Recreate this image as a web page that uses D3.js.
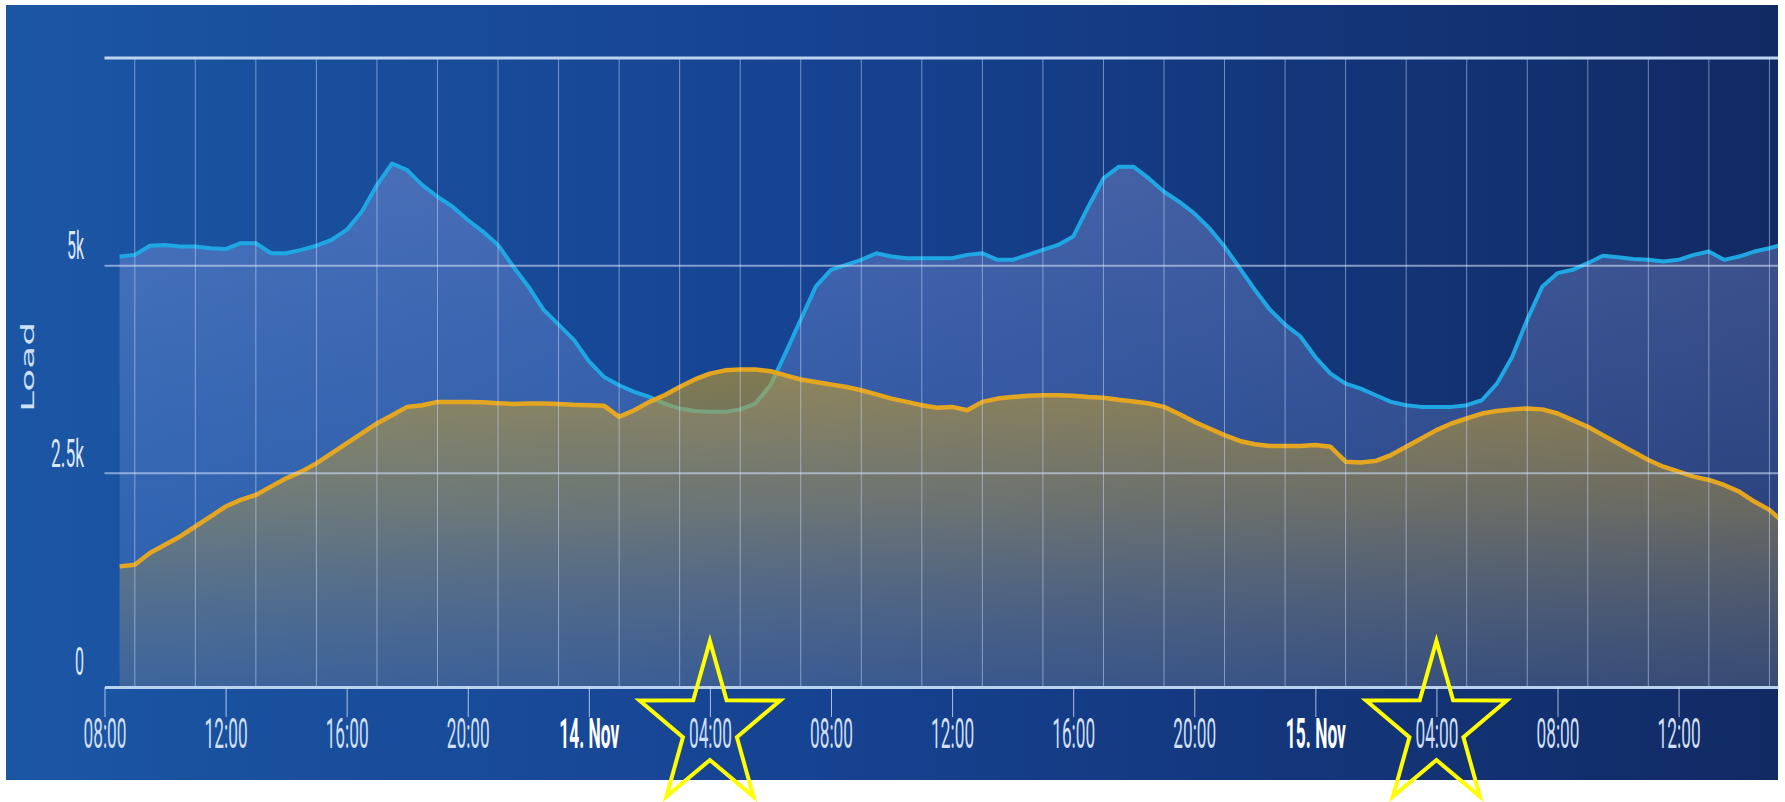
<!DOCTYPE html>
<html><head><meta charset="utf-8">
<script src="https://cdn.jsdelivr.net/npm/d3@7"></script>
<style>html,body{margin:0;padding:0;background:#fff;overflow:hidden} svg{display:block}</style>
</head><body><svg id="c" width="1785" height="802"></svg>
<script>
// ---- data (half-hourly, starting 13 Nov 08:30) ----
const seriesStart = new Date(2013, 10, 13, 8, 30);
const stepMinutes = 30;
const loadBlue = [5110,5130,5240,5250,5230,5230,5210,5200,5270,5270,5150,5150,5190,5240,5310,5430,5650,5970,6230,6150,
  5970,5830,5710,5550,5410,5250,4990,4750,4470,4290,4110,3850,3660,3560,3480,3420,3340,3280,3250,3240,
  3240,3270,3340,3560,3950,4350,4750,4950,5010,5070,5150,5110,5090,5090,5090,5090,5130,5150,5070,5070,
  5130,5190,5250,5350,5710,6050,6190,6190,6050,5890,5770,5630,5450,5230,4970,4710,4470,4290,4150,3900,
  3700,3580,3520,3440,3360,3320,3300,3300,3300,3320,3380,3580,3900,4350,4750,4910,4950,5030,5120,5100,
  5080,5070,5050,5070,5130,5170,5070,5110,5170,5210,5260];
const loadOrange = [1380,1400,1540,1640,1740,1860,1980,2100,2180,2240,2340,2440,2520,2620,2740,2860,2980,3100,3200,3300,
  3320,3360,3360,3360,3355,3345,3335,3340,3340,3335,3325,3320,3315,3180,3260,3360,3440,3540,3630,3700,
  3740,3750,3750,3730,3680,3630,3600,3570,3540,3500,3450,3400,3360,3320,3290,3300,3260,3360,3400,3420,
  3435,3440,3440,3435,3420,3410,3385,3365,3340,3300,3215,3120,3040,2960,2890,2850,2830,2830,2830,2840,
  2820,2640,2630,2650,2720,2820,2920,3020,3100,3160,3220,3250,3270,3280,3270,3220,3140,3060,2960,2860,
  2760,2660,2580,2520,2460,2420,2360,2280,2160,2060,1900];
const yTickValues = [0, 2500, 5000];
const yTickLabels = ["0", "2.5k", "5k"];
const xTickLabels = ["08:00","12:00","16:00","20:00","14. Nov","04:00","08:00","12:00","16:00","20:00","15. Nov","04:00","08:00","12:00"];
const xDomain = [new Date(2013, 10, 13, 8, 0), new Date(2013, 10, 15, 15, 17)];
const yMax = 7500;
const starTimes = [new Date(2013, 10, 14, 4, 0), new Date(2013, 10, 15, 4, 0)];
const yAxisTitle = "Load";

// ---- build ----
const svg = d3.select("#c");
const panel = {x: 6, y: 5, w: 1772, h: 775};
const plotL = 104.5, plotR = 1778, plotTop = 58, zeroY = 681, axisY = 687;

const x = d3.scaleTime().domain(xDomain).range([plotL, plotR]);
const y = d3.scaleLinear().domain([0, yMax]).range([zeroY, plotTop]);

const defs = svg.append("defs");
const bg = defs.append("linearGradient").attr("id", "bg").attr("x1", 0).attr("x2", 1).attr("y1", 0).attr("y2", 0);
bg.append("stop").attr("offset", "0%").attr("stop-color", "#1b56a4");
bg.append("stop").attr("offset", "45%").attr("stop-color", "#164392");
bg.append("stop").attr("offset", "100%").attr("stop-color", "#112a64");

const gBlue = defs.append("linearGradient").attr("id", "gBlue").attr("gradientUnits", "userSpaceOnUse")
  .attr("x1", 0).attr("x2", 0).attr("y1", plotTop).attr("y2", axisY);
gBlue.append("stop").attr("offset", "0%").attr("stop-color", "rgb(200,195,255)").attr("stop-opacity", 0.32);
gBlue.append("stop").attr("offset", "100%").attr("stop-color", "rgb(150,185,255)").attr("stop-opacity", 0.12);

const gOr = defs.append("linearGradient").attr("id", "gOr").attr("gradientUnits", "userSpaceOnUse")
  .attr("x1", 0).attr("x2", 0).attr("y1", 330).attr("y2", axisY);
gOr.append("stop").attr("offset", "0%").attr("stop-color", "rgb(215,165,25)").attr("stop-opacity", 0.62);
gOr.append("stop").attr("offset", "50%").attr("stop-color", "rgb(180,150,60)").attr("stop-opacity", 0.45);
gOr.append("stop").attr("offset", "100%").attr("stop-color", "rgb(120,120,110)").attr("stop-opacity", 0.25);

defs.append("clipPath").attr("id", "plotClip").append("rect")
  .attr("x", plotL).attr("y", 0).attr("width", plotR - plotL).attr("height", axisY);

svg.append("rect").attr("x", panel.x).attr("y", panel.y).attr("width", panel.w).attr("height", panel.h).attr("fill", "url(#bg)");

const blueData = loadBlue.map((v, i) => ({t: d3.timeMinute.offset(seriesStart, i * stepMinutes), v}));
const orData = loadOrange.map((v, i) => ({t: d3.timeMinute.offset(seriesStart, i * stepMinutes), v}));

const area = d3.area().x(d => x(d.t)).y0(axisY - 1).y1(d => y(d.v));
const line = d3.line().x(d => x(d.t)).y(d => y(d.v));

const plot = svg.append("g").attr("clip-path", "url(#plotClip)");
plot.append("path").datum(blueData).attr("d", area).attr("fill", "url(#gBlue)");

// grid lines
const gridHours = d3.timeHour.every(1).range(new Date(2013, 10, 13, 9, 0), xDomain[1]).filter(d => d.getHours() % 2 === 1);
const grid = svg.append("g");
grid.selectAll("line.v").data(gridHours).join("line")
  .attr("x1", d => x(d)).attr("x2", d => x(d)).attr("y1", plotTop).attr("y2", axisY)
  .attr("stroke", "rgba(210,226,255,0.5)").attr("stroke-width", 1);
grid.selectAll("line.h").data([2500, 5000]).join("line")
  .attr("x1", plotL).attr("x2", plotR).attr("y1", d => y(d)).attr("y2", d => y(d))
  .attr("stroke", "rgba(205,220,245,0.6)").attr("stroke-width", 2);
svg.append("line").attr("x1", plotL).attr("x2", plotR).attr("y1", y(yMax)).attr("y2", y(yMax))
  .attr("stroke", "#bcd4f0").attr("stroke-width", 3);

plot.append("path").datum(blueData).attr("d", line).attr("fill", "none")
  .attr("stroke", "#1fa7e4").attr("stroke-width", 4).attr("stroke-linejoin", "round");
plot.append("path").datum(orData).attr("d", area).attr("fill", "url(#gOr)");
plot.append("path").datum(orData).attr("d", line).attr("fill", "none")
  .attr("stroke", "#e4a620").attr("stroke-width", 4.5).attr("stroke-linejoin", "round");

// x axis
const xTicks = d3.timeHour.every(4).range(xDomain[0], new Date(2013, 10, 15, 12, 1));
const xAxis = d3.axisBottom(x).tickValues(xTicks).tickSize(30).tickSizeOuter(0).tickFormat((d, i) => xTickLabels[i]);
const gx = svg.append("g").attr("transform", `translate(0,${axisY})`).call(xAxis);
gx.select(".domain").attr("stroke", "#b9d2ee").attr("stroke-width", 3);
gx.selectAll(".tick line").attr("stroke", "rgba(220,235,255,0.75)").attr("stroke-width", 1);
gx.selectAll(".tick text")
  .attr("y", 61).attr("dy", null)
  .attr("font-family", "Roboto, 'DejaVu Sans', sans-serif")
  .attr("font-size", 42)
  .attr("font-weight", (d, i) => xTickLabels[i].includes("Nov") ? "bold" : "normal")
  .attr("fill", (d, i) => xTickLabels[i].includes("Nov") ? "#ffffff" : "#cfdff4")
  .attr("textLength", (d, i) => xTickLabels[i].includes("Nov") ? 60 : 43)
  .attr("lengthAdjust", "spacingAndGlyphs");

// y axis labels
const widthsY = {"0": 9, "2.5k": 33, "5k": 17};
const yAxis = d3.axisLeft(y).tickValues(yTickValues).tickSize(0).tickFormat((d, i) => yTickLabels[i]);
const gy = svg.append("g").attr("transform", `translate(84,0)`).call(yAxis);
gy.select(".domain").remove();
gy.selectAll(".tick text")
  .attr("x", 0).attr("dy", null).attr("y", -7)
  .attr("text-anchor", "end")
  .attr("font-family", "Roboto, 'DejaVu Sans', sans-serif")
  .attr("font-size", 38)
  .attr("fill", "#dde8f6")
  .attr("textLength", (d, i) => widthsY[yTickLabels[i]])
  .attr("lengthAdjust", "spacingAndGlyphs");

svg.append("text").attr("transform", "translate(34,367) rotate(-90)")
  .attr("text-anchor", "middle")
  .attr("font-family", "'DejaVu Sans', sans-serif").attr("font-size", 18)
  .attr("fill", "#cfe0f4")
  .attr("textLength", 90).attr("lengthAdjust", "spacingAndGlyphs")
  .text(yAxisTitle);

// star annotations
function starPath(cx, cy, R, r, sx) {
  const pts = [];
  for (let k = 0; k < 10; k++) {
    const a = (-90 + k * 36) * Math.PI / 180;
    const rad = k % 2 === 0 ? R : r;
    pts.push([cx + Math.cos(a) * rad * sx, cy + Math.sin(a) * rad]);
  }
  return "M" + pts.map(p => p.join(",")).join("L") + "Z";
}
svg.selectAll("path.star").data(starTimes).join("path").attr("class", "star")
  .attr("d", d => starPath(x(d), 727, 86, 33, 0.86))
  .attr("fill", "none").attr("stroke", "#ffff00").attr("stroke-width", 4).attr("stroke-linejoin", "miter");
</script>
</body></html>
